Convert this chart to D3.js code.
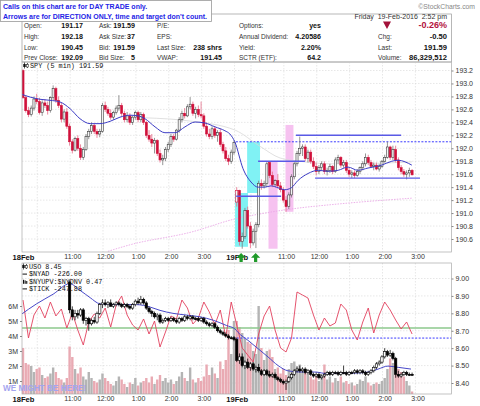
<!DOCTYPE html>
<html><head><meta charset="utf-8">
<script src="https://cdn.jsdelivr.net/npm/d3@7"></script>
<style>
body{margin:0;background:#fff;}
svg{display:block;font-family:"Liberation Sans",Arial,sans-serif;}
</style></head><body>
<svg id="c" width="480" height="406"></svg>
<script>
// ---------------- DATA ----------------
const xTickIdx    = [0, 18, 30, 42, 54, 66, 78, 96, 108, 120, 132, 144];
const xTickLabels = ["18Feb","11:00","12:00","1:00","2:00","3:00","19Feb","11:00","12:00","1:00","2:00","3:00"];
const hourIdx     = [6, 18, 30, 42, 54, 66, 78, 84, 96, 108, 120, 132, 144];
const priceTicks  = [190.6,190.8,191.0,191.2,191.4,191.6,191.8,192.0,192.2,192.4,192.6,192.8,193.0,193.2];
const usoTicks    = [8.40,8.50,8.60,8.70,8.80,8.90,9.00];
const volTicks    = [1,2,3,4,5,6];

// SPY 5-min candles [open, high, low, close]
const spyDay1 = [
[193.20,193.22,192.76,192.78],[192.78,192.82,192.55,192.58],[192.58,192.64,192.48,192.52],[192.52,192.66,192.49,192.62],
[192.62,192.80,192.58,192.76],[192.76,192.84,192.68,192.72],[192.72,192.78,192.52,192.55],[192.55,192.74,192.50,192.70],
[192.70,192.76,192.62,192.66],[192.66,192.72,192.52,192.58],[192.58,192.80,192.55,192.78],[192.78,192.97,192.74,192.92],
[192.92,192.95,192.70,192.74],[192.74,192.80,192.62,192.66],[192.66,192.70,192.40,192.45],[192.45,192.60,192.40,192.56],
[192.56,192.62,192.30,192.34],[192.34,192.38,192.04,192.10],[192.10,192.14,191.92,191.97],[191.97,192.18,191.95,192.15],
[192.15,192.20,191.96,192.00],[192.00,192.06,191.82,191.86],[191.86,192.02,191.82,191.98],[191.98,192.22,191.96,192.18],
[192.18,192.30,192.14,192.26],[192.26,192.40,192.22,192.35],[192.35,192.38,192.22,192.26],[192.26,192.30,192.16,192.22],
[192.22,192.30,192.17,192.26],[192.26,192.70,192.24,192.66],[192.66,192.72,192.56,192.60],[192.60,192.64,192.50,192.54],
[192.54,192.60,192.44,192.48],[192.48,192.58,192.44,192.55],[192.55,192.66,192.52,192.62],[192.62,192.82,192.58,192.66],
[192.66,192.70,192.50,192.54],[192.54,192.58,192.40,192.44],[192.44,192.56,192.40,192.50],[192.50,192.54,192.36,192.40],
[192.40,192.50,192.36,192.48],[192.48,192.58,192.44,192.55],[192.55,192.58,192.40,192.44],[192.44,192.56,192.40,192.52],
[192.52,192.55,192.36,192.40],[192.40,192.42,192.16,192.20],[192.20,192.28,192.10,192.14],[192.14,192.22,192.02,192.08],
[192.08,192.16,191.92,192.12],[192.12,192.14,191.88,191.92],[191.92,191.98,191.78,191.82],[191.82,191.90,191.74,191.84],
[191.84,192.02,191.80,191.98],[191.98,192.10,191.94,192.06],[192.06,192.22,192.02,192.18],[192.18,192.22,192.10,192.14],
[192.14,192.30,192.12,192.28],[192.28,192.48,192.24,192.44],[192.44,192.58,192.40,192.54],[192.54,192.62,192.46,192.50],
[192.50,192.68,192.48,192.64],[192.64,192.79,192.60,192.68],[192.68,192.72,192.50,192.54],[192.54,192.64,192.46,192.60],
[192.60,192.66,192.48,192.52],[192.52,192.72,192.46,192.50],[192.50,192.54,192.30,192.34],[192.34,192.40,192.18,192.22],
[192.22,192.30,192.14,192.18],[192.18,192.34,192.14,192.30],[192.30,192.34,192.16,192.20],[192.20,192.28,192.10,192.24],
[192.24,192.30,192.02,192.06],[192.06,192.10,191.92,191.96],[191.96,192.02,191.80,191.84],[191.84,191.90,191.74,191.80],
[191.80,191.98,191.76,191.94],[191.94,192.12,191.90,192.09]
];
const spyDay2 = [
[191.17,191.40,191.10,191.35],[191.35,191.36,190.50,190.56],[190.56,190.70,190.45,190.64],[190.64,191.08,190.60,191.04],
[191.04,191.10,190.76,190.80],[190.80,190.86,190.46,190.54],[190.54,190.76,190.50,190.72],[190.72,190.86,190.46,190.82],
[190.82,191.50,190.78,191.46],[191.46,191.52,191.36,191.42],[191.42,191.50,191.38,191.46],[191.46,191.80,191.40,191.76],
[191.78,191.80,191.54,191.58],[191.58,191.64,191.40,191.44],[191.44,191.52,191.40,191.50],[191.50,191.60,191.38,191.42],
[191.42,191.48,191.32,191.36],[191.36,191.40,191.16,191.20],[191.20,191.26,191.02,191.10],[191.10,191.32,191.06,191.28],
[191.28,191.60,191.24,191.56],[191.56,191.80,191.52,191.76],[191.76,191.96,191.72,191.92],[191.92,192.18,191.88,192.00],
[192.00,192.06,191.88,192.02],[192.02,192.06,191.80,191.84],[191.84,191.98,191.78,191.94],[191.94,191.98,191.76,191.80],
[191.80,191.86,191.68,191.72],[191.72,191.78,191.58,191.64],[191.64,191.74,191.60,191.70],[191.70,191.80,191.66,191.76],
[191.76,191.80,191.60,191.64],[191.64,191.70,191.58,191.66],[191.66,191.76,191.62,191.72],[191.72,191.74,191.60,191.64],
[191.64,191.86,191.62,191.82],[191.82,191.90,191.76,191.86],[191.86,191.88,191.70,191.74],[191.74,191.82,191.70,191.78],
[191.78,191.82,191.62,191.66],[191.66,191.70,191.56,191.60],[191.60,191.66,191.54,191.62],[191.62,191.66,191.54,191.58],
[191.58,191.68,191.56,191.64],[191.64,191.72,191.60,191.70],[191.70,191.80,191.66,191.76],[191.76,191.92,191.72,191.86],
[191.86,191.90,191.74,191.78],[191.78,191.82,191.70,191.72],[191.72,191.78,191.66,191.74],[191.74,191.78,191.66,191.68],
[191.68,191.76,191.64,191.72],[191.72,191.82,191.70,191.80],[191.80,191.90,191.78,191.86],[191.86,192.10,191.84,192.02],
[192.02,192.04,191.82,191.86],[191.86,192.04,191.82,191.98],[191.98,192.04,191.78,191.82],[191.82,191.86,191.66,191.70],
[191.70,191.74,191.60,191.64],[191.64,191.68,191.56,191.60],[191.60,191.66,191.52,191.62],[191.62,191.70,191.56,191.66],
[191.66,191.68,191.58,191.59]
];

// SPY 5-min volume, millions
const volDay1 = [3.2,2.2,2.1,2.0,1.6,1.8,1.9,1.4,1.2,1.3,1.5,1.9,1.6,1.2,1.1,0.9,1.2,3.3,2.6,1.8,
1.5,1.9,1.3,1.1,1.6,1.2,1.0,0.9,1.1,1.5,1.2,1.0,0.8,0.7,1.0,1.3,1.1,0.8,0.6,0.9,
0.8,1.2,0.7,0.9,1.0,1.2,0.9,1.3,0.8,1.1,1.4,1.0,1.2,0.9,1.1,0.8,1.0,1.3,1.6,1.2,
1.0,1.9,1.1,0.9,1.2,1.0,1.3,2.1,1.4,1.9,1.5,1.2,2.3,1.8,2.4,4.4,2.8,5.0];
const volDay2 = [5.0,4.6,4.2,3.8,3.6,3.5,3.0,2.8,6.0,3.2,2.4,3.0,3.1,2.6,1.8,1.9,1.5,1.8,1.4,1.8,
2.2,2.3,2.0,2.1,1.6,1.7,1.5,1.3,1.1,1.4,1.0,1.2,2.1,1.1,1.3,0.9,1.2,1.0,1.3,0.9,
1.0,0.8,0.9,0.7,0.8,1.1,1.0,1.3,0.9,0.7,0.8,0.9,0.8,1.0,1.2,1.8,2.5,2.2,2.5,1.8,
1.6,1.3,1.0,0.7,0.3];

// USO 5-min candles [open, high, low, close]; day 1 starts at the 10:55 bar
const usoDay1FirstBar = 17;
const usoDay1 = [
[8.98,8.99,8.80,8.82],[8.82,8.84,8.76,8.78],[8.78,8.82,8.76,8.80],[8.80,8.82,8.77,8.79],[8.79,8.83,8.78,8.82],
[8.82,8.83,8.74,8.76],[8.76,8.78,8.73,8.77],[8.77,8.78,8.70,8.74],[8.74,8.77,8.73,8.76],[8.76,8.78,8.74,8.75],
[8.75,8.81,8.74,8.80],[8.80,8.86,8.79,8.85],[8.85,8.88,8.83,8.86],[8.86,8.88,8.84,8.85],[8.85,8.87,8.83,8.86],
[8.86,8.88,8.84,8.84],[8.84,8.86,8.83,8.85],[8.85,8.87,8.84,8.86],[8.86,8.87,8.84,8.85],[8.85,8.86,8.83,8.84],
[8.84,8.86,8.83,8.85],[8.85,8.86,8.83,8.84],[8.84,8.85,8.82,8.83],[8.83,8.86,8.82,8.85],[8.85,8.88,8.84,8.87],
[8.87,8.89,8.85,8.86],[8.86,8.90,8.85,8.88],[8.88,8.89,8.85,8.86],[8.86,8.87,8.82,8.83],[8.83,8.84,8.80,8.81],
[8.81,8.82,8.78,8.80],[8.80,8.81,8.77,8.78],[8.78,8.80,8.76,8.79],[8.79,8.80,8.74,8.75],[8.75,8.77,8.74,8.76],
[8.76,8.78,8.75,8.77],[8.77,8.78,8.75,8.76],[8.76,8.78,8.75,8.77],[8.77,8.78,8.75,8.76],[8.76,8.77,8.74,8.75],
[8.75,8.78,8.74,8.77],[8.77,8.78,8.75,8.76],[8.76,8.79,8.75,8.78],[8.78,8.79,8.76,8.77],[8.77,8.79,8.76,8.78],
[8.78,8.79,8.76,8.77],[8.77,8.78,8.76,8.77],[8.77,8.78,8.75,8.76],[8.76,8.78,8.75,8.77],[8.77,8.78,8.74,8.75],
[8.75,8.76,8.73,8.74],[8.74,8.75,8.72,8.73],[8.73,8.75,8.72,8.74],[8.74,8.75,8.71,8.72],[8.72,8.73,8.69,8.70],
[8.70,8.71,8.68,8.69],[8.69,8.70,8.67,8.68],[8.68,8.69,8.66,8.67],[8.67,8.68,8.65,8.66],[8.66,8.67,8.65,8.66],
[8.66,8.67,8.64,8.65]
];
const usoDay2 = [
[8.65,8.66,8.52,8.53],[8.53,8.57,8.51,8.55],[8.55,8.57,8.49,8.50],[8.50,8.53,8.48,8.52],[8.52,8.54,8.48,8.49],
[8.49,8.52,8.47,8.51],[8.51,8.52,8.47,8.48],[8.48,8.50,8.46,8.49],[8.49,8.51,8.46,8.47],[8.47,8.48,8.44,8.45],
[8.45,8.48,8.44,8.47],[8.47,8.48,8.44,8.45],[8.45,8.47,8.43,8.44],[8.44,8.46,8.43,8.45],[8.45,8.46,8.42,8.43],
[8.43,8.44,8.41,8.42],[8.42,8.43,8.40,8.41],[8.41,8.42,8.39,8.40],[8.40,8.42,8.36,8.41],[8.41,8.44,8.40,8.43],
[8.43,8.46,8.42,8.45],[8.45,8.48,8.44,8.47],[8.47,8.49,8.46,8.48],[8.48,8.50,8.46,8.47],[8.47,8.49,8.46,8.48],
[8.48,8.49,8.45,8.46],[8.46,8.48,8.45,8.47],[8.47,8.48,8.44,8.45],[8.45,8.46,8.43,8.44],[8.44,8.46,8.43,8.45],
[8.45,8.46,8.42,8.43],[8.43,8.45,8.42,8.44],[8.44,8.46,8.43,8.45],[8.45,8.47,8.44,8.46],[8.46,8.47,8.44,8.45],
[8.45,8.47,8.44,8.46],[8.46,8.47,8.45,8.46],[8.46,8.47,8.44,8.45],[8.45,8.47,8.44,8.46],[8.46,8.50,8.45,8.46],
[8.46,8.47,8.44,8.45],[8.45,8.47,8.44,8.46],[8.46,8.47,8.45,8.46],[8.46,8.48,8.45,8.47],[8.47,8.48,8.45,8.46],
[8.46,8.48,8.45,8.47],[8.47,8.48,8.45,8.46],[8.46,8.47,8.44,8.45],[8.45,8.47,8.44,8.46],[8.46,8.48,8.45,8.47],
[8.47,8.50,8.46,8.49],[8.49,8.52,8.48,8.51],[8.51,8.53,8.50,8.52],[8.52,8.56,8.51,8.55],[8.55,8.60,8.54,8.58],
[8.58,8.59,8.55,8.56],[8.56,8.59,8.55,8.57],[8.57,8.58,8.53,8.54],[8.54,8.55,8.43,8.45],[8.45,8.47,8.43,8.44],
[8.44,8.46,8.43,8.45],[8.45,8.47,8.44,8.46],[8.46,8.47,8.44,8.45],[8.45,8.46,8.44,8.45],[8.45,8.46,8.44,8.45]
];

// $TICK, one value every second bar (bars 0,2,4,...)
const tickEvery2 = [1156,-413,537,909,413,1074,496,785,0,620,-83,-702,248,578,413,826,41,950,1322,537,
124,-83,372,-248,289,-785,-165,496,372,1156,826,165,413,1074,661,124,743,-372,1074,
124,-826,-1115,-1404,-248,496,909,-83,-826,-991,-413,1487,1363,1239,537,-83,413,83,207,991,
743,-83,-496,248,826,-207,537,1074,743,330,-41,248,-248];

// moving averages: [bar, value]
const spyMA = [[-1,192.84],[2.6,192.79],[6.2,192.756],[9.85,192.74],[13.5,192.714],[17.2,192.61],[20.8,192.456],
[24.5,192.38],[28.1,192.38],[31.8,192.416],[35.4,192.48],[39.1,192.51],[42,192.50],[44.5,192.456],[48.2,192.33],
[51.8,192.24],[55.5,192.24],[59.1,192.33],[62.8,192.405],[66.4,192.39],[70.1,192.33],[73.7,192.27],[75.5,192.22],
[77.3,192.10],[80.3,191.685],[83.2,191.48],[85.8,191.40],[88.2,191.40],[90.5,191.42],[93.1,191.39],[95.5,191.36],
[97.9,191.39],[100.4,191.505],[104,191.61],[107.7,191.66],[111.3,191.645],[115,191.66],[118.6,191.71],[122.2,191.66],
[125.9,191.695],[130.9,191.74],[134.6,191.80],[136.9,191.815],[141.9,191.74]];
const spyLongMA = [[31,190.41],[39,190.51],[61.7,190.71],[77.4,190.91],[86.9,190.99],[99.2,191.07],[115,191.14],[141.9,191.23]];
const spyMidMA = [[44.5,192.47],[61,192.42],[77.4,192.28],[86.5,192.03],[93.8,191.85],[101,191.80],[112,191.76],[130,191.77],[142,191.79]];
const usoMA = [[-1,8.79],[5,8.855],[11,8.91],[17,8.97],[21,8.93],[24.5,8.89],[28,8.855],[32,8.85],[35.4,8.85],
[41.5,8.85],[46.4,8.836],[50,8.817],[54.7,8.80],[59.7,8.79],[64.6,8.78],[69.5,8.76],[74.3,8.73],[77.4,8.71],
[78.5,8.69],[82.1,8.645],[85.8,8.597],[89.4,8.55],[93.1,8.50],[96.7,8.47],[101.5,8.463],[106.5,8.463],
[111.3,8.453],[116,8.457],[121,8.457],[126,8.463],[129.6,8.48],[133.2,8.497],[136.9,8.49],[141.6,8.48]];

// annotations: [fromBar, toBar, price]
const supportLines = [[77.8,94.2,191.26],[85.8,102.9,191.80],[99.6,138,192.20],[106.6,144.9,191.54]];
const dashedSpyLevel = 192.10, dashedUsoLevel = 8.658;
const cyanBoxes = [[77.4,82.1,190.48,191.31],[81.8,86.5,191.31,192.10]];
const pinkBoxes = [[89.6,92.9,190.45,191.79],[95.8,98.7,191.02,192.36]];
const upArrowBars = [79.6, 84.9];

// quote table
const tblLabels = [["Open:","High:","Low:","Prev Close:"],["Ask:","Ask Size:","Bid:","Bid Size:"],
  ["P/E:","EPS:","Last Size:","VWAP:"],["Options:","Annual Dividend:","Yield:","SCTR (ETF):"],["","Chg:","Last:","Volume:"]];
const tblValues = [["191.17","192.18","190.45","192.09"],["191.59","37","191.59","5"],
  ["","","238 shrs","191.45"],["yes","4.20586","2.20%","64.2"],["-0.26%","-0.50","191.59","86,329,512"]];

// ---------------- DRAW ----------------
const svg = d3.select("#c");
const PL = 22, PR = 451.5;
const mainTop = 62, mainBot = 252, lowTop = 263, lowBot = 394;
const x  = d3.scaleLinear().domain([0, 156.2]).range([23, 451]);
const yP = d3.scaleLinear().domain([190.6, 193.2]).range([239, 70.5]);
const yU = d3.scaleLinear().domain([8.4, 9.0]).range([383, 278.5]);
const yV = d3.scaleLinear().domain([0, 6]).range([396, 306]);
const yT = d3.scaleLinear().domain([-1000, 1000]).range([352.2, 303.8]);

const RED = "#d0103a", DARK = "#303030";
const spy = [...spyDay1, ...spyDay2].map((d, i) => ({i, o:d[0], h:d[1], l:d[2], c:d[3]}));
spy.forEach((d, k) => { d.pc = k ? spy[k-1].c : d.o; d.down = d.c < d.pc; });
const day2 = spyDay1.length;
const uso = [...usoDay1.map((d, k) => ({i: usoDay1FirstBar + k, o:d[0], h:d[1], l:d[2], c:d[3]})),
             ...usoDay2.map((d, k) => ({i: day2 + k, o:d[0], h:d[1], l:d[2], c:d[3]}))];
const vols = [...volDay1, ...volDay2].map((v, i) => ({i, v, down: spy[i].down}));
const ticks = tickEvery2.map((v, k) => ({i: k*2, v}));

// clip paths
const defs = svg.append("defs");
defs.append("clipPath").attr("id","cm").append("rect").attr("x",PL).attr("y",mainTop).attr("width",PR-PL).attr("height",mainBot-mainTop);
defs.append("clipPath").attr("id","cl").append("rect").attr("x",PL).attr("y",lowTop).attr("width",PR-PL).attr("height",lowBot-lowTop);

// header table
svg.append("rect").attr("x",PL).attr("y",14).attr("width",PR-PL).attr("height",48).attr("fill","none").attr("stroke","#999").attr("stroke-width",0.7);
const colLX = [24, 99, 157, 239, 378], colVX = [83, 135, 222, 321, 447];
const rowY = [27.5, 38.5, 49.5, 60];
tblLabels.forEach((col, c) => col.forEach((t, r) => {
  svg.append("text").attr("x", colLX[c]).attr("y", rowY[r]).attr("font-size", 6.5).attr("fill", "#333").text(t);
}));
tblValues.forEach((col, c) => col.forEach((t, r) => {
  const red = (c === 4 && r === 0);
  const big = (c === 4);
  svg.append("text").attr("x", colVX[c]).attr("y", rowY[r] + (red ? 0.8 : 0)).attr("text-anchor","end")
    .attr("font-size", red ? 9 : (big ? 7.6 : 7.1)).attr("font-weight","bold").attr("fill", red ? "#b3123e" : "#111").text(t);
}));
svg.append("path").attr("d","M383,21.5 L391,21.5 L387,29 Z").attr("fill","#a3123a");
svg.append("text").attr("x",447).attr("y",19.2).attr("text-anchor","end").attr("font-size",7).attr("fill","#333")
  .attr("xml:space","preserve").text("Friday  19-Feb-2016  2:52 pm");
svg.append("text").attr("x",475).attr("y",8.5).attr("text-anchor","end").attr("font-size",6.8).attr("fill","#888").text("\u00A9StockCharts.com");

// panel frames + grids
function grid(top, bot, yScale, vals) {
  const g = svg.append("g").attr("stroke","#d6d6d6").attr("stroke-width",0.6).attr("stroke-dasharray","1.5,1.5");
  g.selectAll("line.h").data(vals).join("line").attr("x1",PL).attr("x2",PR).attr("y1",d=>yScale(d)).attr("y2",d=>yScale(d));
  g.selectAll("line.v").data(hourIdx).join("line").attr("x1",d=>x(d-0.8)).attr("x2",d=>x(d-0.8)).attr("y1",top).attr("y2",bot);
}
grid(mainTop, mainBot, yP, priceTicks);
grid(lowTop, lowBot, yU, usoTicks);

// ---- main panel ----
const gm = svg.append("g").attr("clip-path","url(#cm)");
gm.selectAll("rect.cy").data(cyanBoxes).join("rect").attr("x",d=>x(d[0])).attr("width",d=>x(d[1])-x(d[0]))
  .attr("y",d=>yP(d[3])).attr("height",d=>yP(d[2])-yP(d[3])).attr("fill","#80f2f4");
gm.selectAll("rect.pk").data(pinkBoxes).join("rect").attr("x",d=>x(d[0])).attr("width",d=>x(d[1])-x(d[0]))
  .attr("y",d=>yP(d[3])).attr("height",d=>yP(d[2])-yP(d[3])).attr("fill","#f6c2f0");
gm.append("line").attr("x1",x(day2-0.3)).attr("x2",PR).attr("y1",yP(dashedSpyLevel)).attr("y2",yP(dashedSpyLevel))
  .attr("stroke","#3a3aff").attr("stroke-width",1).attr("stroke-dasharray","2,1.5");
const lineP = d3.line().x(d=>x(d[0])).y(d=>yP(d[1])).curve(d3.curveMonotoneX);
gm.append("path").attr("d",lineP(spyLongMA)).attr("fill","none").attr("stroke","#eaa8e6").attr("stroke-width",0.9).attr("stroke-dasharray","1.5,1.2");
gm.append("path").attr("d",lineP(spyMidMA)).attr("fill","none").attr("stroke","#d8d8d8").attr("stroke-width",0.8);

const cw = 2.1;
gm.selectAll("line.wk").data(spy).join("line").attr("x1",d=>x(d.i)).attr("x2",d=>x(d.i))
  .attr("y1",d=>yP(d.h)).attr("y2",d=>yP(d.l)).attr("stroke",d=>d.down?"#e46a86":"#7a7a7a").attr("stroke-width",0.8);
gm.selectAll("rect.bd").data(spy).join("rect").attr("x",d=>x(d.i)-cw/2).attr("width",cw)
  .attr("y",d=>yP(Math.max(d.o,d.c))).attr("height",d=>Math.max(0.8, Math.abs(yP(d.o)-yP(d.c))))
  .attr("fill",d=>d.c>d.o?"#f4f4f4":(d.down?RED:DARK)).attr("stroke",d=>d.down?RED:DARK).attr("stroke-width",0.55);
gm.append("path").attr("d",lineP(spyMA)).attr("fill","none").attr("stroke","#3c3cc4").attr("stroke-width",1);
gm.selectAll("line.sup").data(supportLines).join("line").attr("x1",d=>x(d[0])).attr("x2",d=>x(d[1]))
  .attr("y1",d=>yP(d[2])).attr("y2",d=>yP(d[2])).attr("stroke","#5a5ae6").attr("stroke-width",1.4);

svg.append("rect").attr("x",PL).attr("y",mainTop).attr("width",PR-PL).attr("height",mainBot-mainTop)
  .attr("fill","none").attr("stroke","#aaa").attr("stroke-width",0.7);

// legend main
const mono = "'Liberation Mono','DejaVu Sans Mono',monospace";
function candleIcon(cx, cy) {
  svg.append("line").attr("x1",cx).attr("x2",cx).attr("y1",cy-3).attr("y2",cy+3).attr("stroke","#111").attr("stroke-width",0.7);
  svg.append("rect").attr("x",cx-1.2).attr("y",cy-1.5).attr("width",2.4).attr("height",3).attr("fill","#111");
  svg.append("line").attr("x1",cx+3).attr("x2",cx+3).attr("y1",cy-2.5).attr("y2",cy+2.5).attr("stroke","#111").attr("stroke-width",0.7);
  svg.append("rect").attr("x",cx+1.9).attr("y",cy-1).attr("width",2.2).attr("height",2.5).attr("fill","#fff").attr("stroke","#111").attr("stroke-width",0.5);
}
candleIcon(24.5, 65.5);
svg.append("text").attr("x",30).attr("y",68).attr("font-family",mono).attr("font-size",6.8).attr("fill","#111").text("SPY (5 min) 191.59");

// axes main
svg.append("g").attr("transform",`translate(${PR},0)`)
  .call(d3.axisRight(yP).tickValues(priceTicks).tickFormat(d3.format(".1f")).tickSize(2).tickPadding(2));
svg.append("g").attr("transform",`translate(0,${mainBot})`)
  .call(d3.axisBottom(x).tickValues(xTickIdx).tickFormat((d,k)=>xTickLabels[k]).tickSize(0).tickPadding(2.5));

// ---- lower panel ----
const gl = svg.append("g").attr("clip-path","url(#cl)");
gl.selectAll("rect.v").data(vols).join("rect").attr("x",d=>x(d.i)-1.2).attr("width",2.4)
  .attr("y",d=>yV(d.v)).attr("height",d=>yV(0)-yV(d.v)).attr("fill",d=>d.down?"#e9aab3":"#b4b4b4");
gl.append("line").attr("x1",PL).attr("x2",PR).attr("y1",yT(0)).attr("y2",yT(0)).attr("stroke","#8cc98c").attr("stroke-width",1.4);
gl.append("line").attr("x1",x(day2-1.3)).attr("x2",PR).attr("y1",yU(dashedUsoLevel)).attr("y2",yU(dashedUsoLevel))
  .attr("stroke","#3a3aff").attr("stroke-width",1).attr("stroke-dasharray","2,1.5");
gl.append("path").attr("d",d3.line().x(d=>x(d.i)).y(d=>yT(d.v))(ticks)).attr("fill","none").attr("stroke","#e2415e").attr("stroke-width",0.9);
gl.append("path").attr("d",d3.line().x(d=>x(d[0])).y(d=>yU(d[1])).curve(d3.curveMonotoneX)(usoMA))
  .attr("fill","none").attr("stroke","#4848c8").attr("stroke-width",1);
gl.selectAll("line.uw").data(uso).join("line").attr("x1",d=>x(d.i)).attr("x2",d=>x(d.i))
  .attr("y1",d=>yU(d.h)).attr("y2",d=>yU(d.l)).attr("stroke","#111").attr("stroke-width",0.8);
gl.selectAll("rect.ub").data(uso).join("rect").attr("x",d=>x(d.i)-1.2).attr("width",2.4)
  .attr("y",d=>yU(Math.max(d.o,d.c))).attr("height",d=>Math.max(1, Math.abs(yU(d.o)-yU(d.c))))
  .attr("fill",d=>d.c>d.o?"#fff":"#000").attr("stroke","#000").attr("stroke-width",0.6);

svg.append("rect").attr("x",PL).attr("y",lowTop).attr("width",PR-PL).attr("height",lowBot-lowTop)
  .attr("fill","none").attr("stroke","#aaa").attr("stroke-width",0.7);

// lower legend
candleIcon(23.5, 266.5);
const legT = ["USO 8.45","$NYAD -226.00","$NYUPV:$NYDNV 0.47","$TICK -247.88"];
legT.forEach((t, k) => {
  const yy = 269 + k*7.4;
  svg.append("text").attr("x",29).attr("y",yy).attr("font-family",mono).attr("font-size",6.8).attr("fill","#111").text(t);
  if (k === 1 || k === 3) svg.append("line").attr("x1",22.5).attr("x2",27).attr("y1",yy-2.3).attr("y2",yy-2.3).attr("stroke","#111").attr("stroke-width",1);
  if (k === 2) [23,24.6,26.2].forEach((bx, j) => svg.append("rect").attr("x",bx).attr("y",yy-4+j*0.6).attr("width",1.1).attr("height",4-j*0.6).attr("fill","#111"));
});

// lower axes
svg.append("g").attr("transform",`translate(${PR},0)`)
  .call(d3.axisRight(yU).tickValues(usoTicks).tickFormat(d3.format(".2f")).tickSize(2).tickPadding(2));
svg.append("g").attr("transform",`translate(${PL},0)`)
  .call(d3.axisLeft(yV).tickValues(volTicks).tickFormat(d=>d+"M").tickSize(2).tickPadding(2));
svg.append("g").attr("transform",`translate(0,${lowBot})`)
  .call(d3.axisBottom(x).tickValues(xTickIdx).tickFormat((d,k)=>xTickLabels[k]).tickSize(0).tickPadding(2.5));

// axis styling
svg.selectAll(".domain").remove();
svg.selectAll(".tick text").attr("font-size",7).attr("font-family","'Liberation Sans',Arial,sans-serif").attr("fill","#333");
svg.selectAll(".tick line").attr("stroke","#888");
svg.selectAll(".tick text").filter(function(){ return /Feb/.test(this.textContent); })
  .attr("font-weight","bold").attr("font-size",7.6).attr("fill","#111");

// watermark (over the 1M label like the original)
svg.append("text").attr("x",3).attr("y",391).attr("font-size",8.2).attr("font-weight","bold").attr("fill","#a4a4ee").text("WE MIGHT BE HERE!");

// green direction arrows
svg.selectAll("path.arw").data(upArrowBars).join("path")
  .attr("d", d => { const cx = x(d); return `M${cx},253 L${cx+4.6},257.8 L${cx+1.6},257.8 L${cx+1.6},262 L${cx-1.6},262 L${cx-1.6},257.8 L${cx-4.6},257.8 Z`; })
  .attr("fill","#1f9a2a");

// overlay note box
svg.append("rect").attr("x",0.5).attr("y",0.5).attr("width",211).attr("height",21).attr("fill","#fff").attr("stroke","#999").attr("stroke-width",0.8);
svg.append("text").attr("x",3).attr("y",9.3).attr("font-size",7).attr("font-weight","bold").attr("fill","#2424e6").text("Calls on this chart are for DAY TRADE only.");
svg.append("text").attr("x",3).attr("y",18.6).attr("font-size",7).attr("font-weight","bold").attr("fill","#2424e6").text("Arrows are for DIRECTION ONLY, time and target don't count.");
</script></body></html>
